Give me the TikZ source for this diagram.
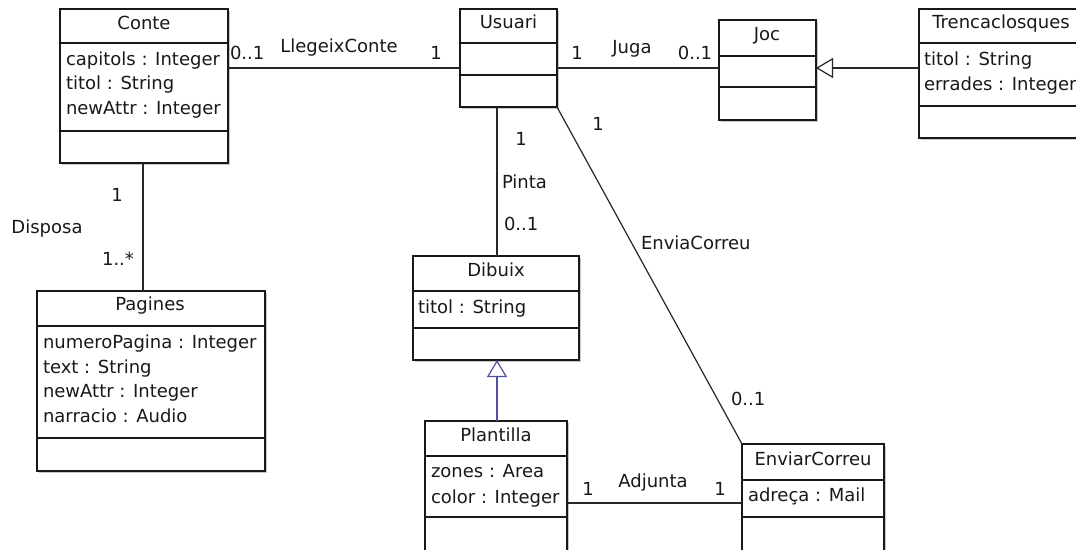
\documentclass[tikz,border=0pt]{standalone}
\usepackage{fontspec}
\setmainfont{DejaVu Sans}
\usetikzlibrary{arrows.meta}
\definecolor{genblue}{RGB}{80,80,160}
\definecolor{boxshade}{RGB}{200,200,200}

% class box: name, left, top, right, bottom, first separator, second separator
\newcommand{\umlclass}[7]{%
  \fill[boxshade] (#2+1.6,#3+1.6) rectangle (#4+1.6,#5+1.6);
  \node[classbox, minimum width={#4-#2}, minimum height={#5-#3}, anchor=north west] (#1) at (#2,#3) {};
  \draw[classline] (#2,#6) -- (#4,#6);
  \draw[classline] (#2,#7) -- (#4,#7);
}

\begin{document}
\begin{tikzpicture}[x=1pt,y=-1pt,
  every node/.style={font=\fontsize{18}{22}\selectfont, inner sep=0pt, outer sep=0pt, text=black!90},
  classbox/.style={draw=black!90, line width=1.4pt, fill=white, rectangle},
  classline/.style={draw=black!90, line width=1.4pt},
  title/.style={anchor=base},
  attr/.style={anchor=base west},
  mult/.style={anchor=base},
  assoc/.style={draw=black!85, line width=1.2pt},
  generalize/.style={line width=1.2pt, -{Triangle[open,length=17pt,width=20pt]}},
]
\fill[white] (0,0) rectangle (1076,549);
\useasboundingbox (0,0) rectangle (1076,549);

% ---- classes ----
\umlclass{conte}{60}{9}{228}{163}{43}{131}
\node[title] (conteT) at (144,29) {Conte};
\node[attr] (conteA1) at (66,65) {capitols : Integer};
\node[attr] (conteA2) at (66,89.5) {titol : String};
\node[attr] (conteA3) at (66,114) {newAttr : Integer};

\umlclass{usuari}{460}{9}{557}{107}{43}{75}
\node[title] (usuariT) at (508.5,28) {Usuari};

\umlclass{joc}{719}{20}{816}{120}{56}{87}
\node[title] (jocT) at (767,40) {Joc};

\umlclass{trenca}{919}{9}{1084}{138}{43}{106}
\node[title] (trencaT) at (1001,28) {Trencaclosques};
\node[attr] (trencaA1) at (924,65.5) {titol : String};
\node[attr] (trencaA2) at (924,90) {errades : Integer};

\umlclass{pagines}{37}{291}{265}{471}{326}{438}
\node[title] (paginesT) at (150,310) {Pagines};
\node[attr] (paginesA1) at (43,348) {numeroPagina : Integer};
\node[attr] (paginesA2) at (43,373) {text : String};
\node[attr] (paginesA3) at (43,397.5) {newAttr : Integer};
\node[attr] (paginesA4) at (43,422) {narracio : Audio};

\umlclass{dibuix}{413}{256}{579}{360}{291}{328}
\node[title] (dibuixT) at (496,276) {Dibuix};
\node[attr] (dibuixA1) at (418,313) {titol : String};

\umlclass{plantilla}{425}{421}{567}{570}{456}{517}
\node[title] (plantillaT) at (496,441) {Plantilla};
\node[attr] (plantillaA1) at (431,477) {zones : Area};
\node[attr] (plantillaA2) at (431,503) {color : Integer};

\umlclass{enviar}{742}{444}{884}{570}{480}{517}
\node[title] (enviarT) at (813,465) {EnviarCorreu};
\node[attr] (enviarA1) at (748,501) {adreça : Mail};

% ---- associations ----
\draw[assoc] ([yshift=-59pt]conte.north east) -- ([yshift=-59pt]usuari.north west);
\node[attr] (llM1) at (230,59) {0..1};
\node[mult] (llN) at (339,52) {LlegeixConte};
\node[mult] (llM2) at (436,59) {1};

\draw[assoc] ([yshift=-59pt]usuari.north east) -- ([yshift=-48pt]joc.north west);
\node[mult] (jugaM1) at (577,59) {1};
\node[mult] (jugaN) at (632,53) {Juga};
\node[mult] (jugaM2) at (695,59) {0..1};

\draw[assoc] ([xshift=-1pt]conte.south) -- ([xshift=-1pt]conte.south |- pagines.north);
\node[mult] (dispM1) at (117,201) {1};
\node[mult] (dispN) at (47,233) {Disposa};
\node[mult] (dispM2) at (118,265) {1..*};

\draw[assoc] ([xshift=1pt]dibuix.north) -- ([xshift=1pt]dibuix.north |- usuari.south);
\node[mult] (pintaM1) at (521,145) {1};
\node[attr] (pintaN) at (502,188) {Pinta};
\node[attr] (pintaM2) at (504,230) {0..1};

\draw[assoc] (usuari.south east) -- (enviar.north west);
\node[mult] (envM1) at (598,130) {1};
\node[attr] (envN) at (641,249) {EnviaCorreu};
\node[attr] (envM2) at (731,405) {0..1};

\draw[assoc] ([yshift=-82pt]plantilla.north east) -- ([yshift=-59pt]enviar.north west);
\node[mult] (adjM1) at (588,495) {1};
\node[mult] (adjN) at (653,487) {Adjunta};
\node[mult] (adjM2) at (720,495) {1};

% ---- generalizations ----
\draw[generalize, draw=black!85] ([yshift=-59pt]trenca.north west) -- ([yshift=-48pt]joc.north east);
\draw[generalize, draw=genblue] ([xshift=1pt]plantilla.north) -- ([xshift=1pt]dibuix.south);
\end{tikzpicture}
\end{document}
